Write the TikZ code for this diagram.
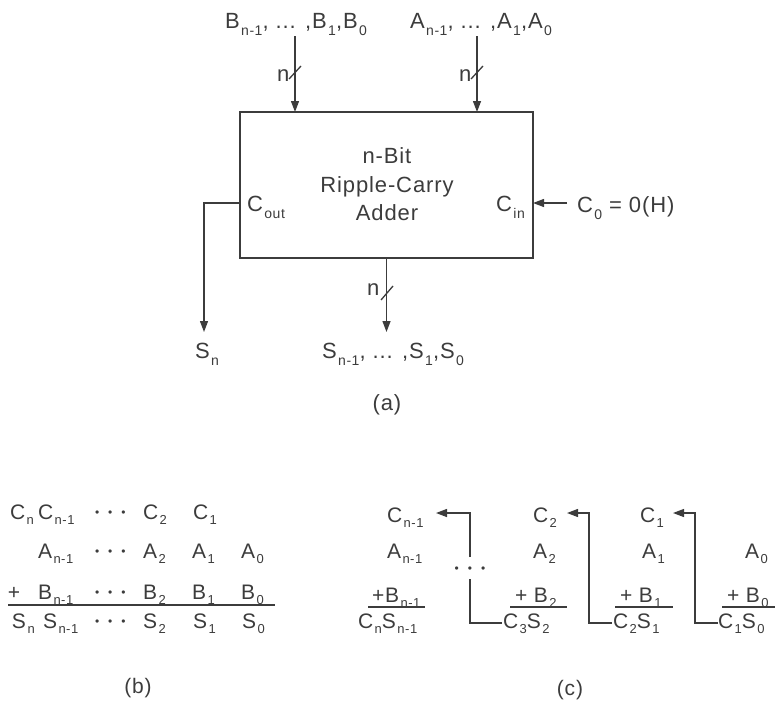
\documentclass[tikz,border=0pt]{standalone}
\usepackage{fontspec}
\setmainfont{Liberation Sans}[LetterSpace=4]
\usetikzlibrary{arrows.meta}
\definecolor{ink}{HTML}{3C3C3C}
\newcommand\fa{\fontsize{22}{22}\selectfont}
\newcommand\fb{\fontsize{21}{21}\selectfont}
\newcommand\sa[1]{\kern1.5pt\raisebox{-7pt}{\fontsize{14}{14}\selectfont #1}}
\newcommand\sbb[1]{\kern1.5pt\raisebox{-5pt}{\fontsize{13}{13}\selectfont #1}}
\newcommand\onedot{\raisebox{2.5pt}{\fontsize{12}{12}\selectfont •}}
\newcommand\mdots{\onedot\kern9pt\onedot\kern9pt\onedot}
\begin{document}
\begin{tikzpicture}[x=1pt,y=-1pt,
  lbl/.style={inner sep=0pt, outer sep=0pt, anchor=base west, text=ink, font=\fa},
  lblb/.style={lbl, font=\fb},
  wire/.style={draw=ink, line width=1.3pt},
  arr/.style={wire, -{Triangle[length=11pt,width=8pt]}},
  uline/.style={draw=ink, line width=1.5pt}]
\useasboundingbox (0,0) rectangle (775,704);

% ---------------- (a)
\node[lbl] (bl) at (225,28) {B\sa{n-1}, ... ,B\sa{1},B\sa{0}};
\node[lbl] (al) at (410,28) {A\sa{n-1}, ... ,A\sa{1},A\sa{0}};
\node[draw=ink, line width=1.3pt, minimum width=293pt, minimum height=146pt,
      inner sep=0pt, outer sep=0pt] (adder) at (386.5,185) {};
\node[lbl, anchor=base] (t1) at (387,163) {n-Bit};
\node[lbl, anchor=base] (t2) at (387,192) {Ripple-Carry};
\node[lbl, anchor=base] (t3) at (387,220) {Adder};
\node[lbl] (cout) at (247,211) {C\sa{out}};
\node[lbl] (cin) at (496,211) {C\sa{in}};
\node[lbl] (c0l) at (577,212) {C\sa{0} = 0(H)};

\coordinate (bt) at (295,36);
\draw[arr] (bt) -- (bt |- adder.north);
\draw[wire] (289,79) -- (301,66);
\node[lbl] (nb) at (277,81) {n};

\coordinate (at) at (477,36);
\draw[arr] (at) -- (at |- adder.north);
\draw[wire] (471,79) -- (483,66);
\node[lbl] (na) at (459,81) {n};

\coordinate (co) at (240,203);
\coordinate (snt) at (204,332);
\draw[arr] (co) -| (snt);

\coordinate (ci) at (567,203);
\draw[arr] (ci) -- (ci -| adder.east);

\coordinate (sot) at (386.5,332);
\draw[arr] (adder.south) -- (sot);
\draw[wire] (381,300) -- (393,286);
\node[lbl] (ns) at (367,295) {n};

\node[lbl] (sn) at (195,358) {S\sa{n}};
\node[lbl] (sl) at (322,358) {S\sa{n-1}, ... ,S\sa{1},S\sa{0}};
\node[lbl, anchor=base] (capa) at (387,410) {(a)};

% ---------------- (b)
\node[lblb] (b11) at (10,519) {C\sbb{n}};
\node[lblb] (b12) at (38,519) {C\sbb{n-1}};
\node[lblb] (b13) at (95,519) {\mdots};
\node[lblb] (b14) at (143,519) {C\sbb{2}};
\node[lblb] (b15) at (193,519) {C\sbb{1}};

\node[lblb] (b22) at (38,558) {A\sbb{n-1}};
\node[lblb] (b23) at (95,558) {\mdots};
\node[lblb] (b24) at (143,558) {A\sbb{2}};
\node[lblb] (b25) at (192,558) {A\sbb{1}};
\node[lblb] (b26) at (241,558) {A\sbb{0}};

\node[lblb] (b31) at (8,599) {+};
\node[lblb] (b32) at (38,599) {B\sbb{n-1}};
\node[lblb] (b33) at (95,599) {\mdots};
\node[lblb] (b34) at (143,599) {B\sbb{2}};
\node[lblb] (b35) at (192,599) {B\sbb{1}};
\node[lblb] (b36) at (241,599) {B\sbb{0}};

\draw[draw=ink, line width=2.2pt] (8,605) -- (275,605);

\node[lblb] (b41) at (12,628) {S\sbb{n}};
\node[lblb] (b42) at (43,628) {S\sbb{n-1}};
\node[lblb] (b43) at (95,628) {\mdots};
\node[lblb] (b44) at (143,628) {S\sbb{2}};
\node[lblb] (b45) at (193,628) {S\sbb{1}};
\node[lblb] (b46) at (242,628) {S\sbb{0}};

\node[lblb, anchor=base] (capb) at (138,693) {(b)};

% ---------------- (c)
\node[lblb] (cc1) at (387,522) {C\sbb{n-1}};
\node[lblb] (cc2) at (533,522) {C\sbb{2}};
\node[lblb] (cc3) at (640,522) {C\sbb{1}};

\node[lblb] (ca1) at (387,558) {A\sbb{n-1}};
\node[lblb] (ca2) at (533,558) {A\sbb{2}};
\node[lblb] (ca3) at (642,558) {A\sbb{1}};
\node[lblb] (ca4) at (745,558) {A\sbb{0}};

\node[lblb] (cb1) at (372,602) {+B\sbb{n-1}};
\node[lblb] (cb2) at (515,602) {+ B\sbb{2}};
\node[lblb] (cb3) at (620,602) {+ B\sbb{1}};
\node[lblb] (cb4) at (727,602) {+ B\sbb{0}};

\draw[uline] (368,607) -- (425,607);
\draw[uline] (510,607) -- (567,607);
\draw[uline] (615,607) -- (673,607);
\draw[uline] (722,607) -- (775,607);

\node[lblb] (cs1) at (358,628) {C\sbb{n}S\sbb{n-1}};
\node[lblb] (cs2) at (503,628) {C\sbb{3}S\sbb{2}};
\node[lblb] (cs3) at (613,628) {C\sbb{2}S\sbb{1}};
\node[lblb] (cs4) at (718,628) {C\sbb{1}S\sbb{0}};

\node[lblb, anchor=base] (cdots) at (470,575) {\mdots};

\coordinate (k1a) at (502,623);
\coordinate (k1b) at (470,579);
\coordinate (k1c) at (470,557);
\coordinate (k1d) at (436,513);
\draw[wire] (k1a) -| (k1b);
\draw[arr] (k1c) |- (k1d);

\coordinate (k2a) at (612,623);
\coordinate (k2b) at (589,513);
\coordinate (k2c) at (567,513);
\draw[arr] (k2a) -| (k2b) -- (k2c);

\coordinate (k3a) at (718,623);
\coordinate (k3b) at (695,513);
\coordinate (k3c) at (673,513);
\draw[arr] (k3a) -| (k3b) -- (k3c);

\node[lblb, anchor=base] (capc) at (570,695) {(c)};
\end{tikzpicture}
\end{document}
